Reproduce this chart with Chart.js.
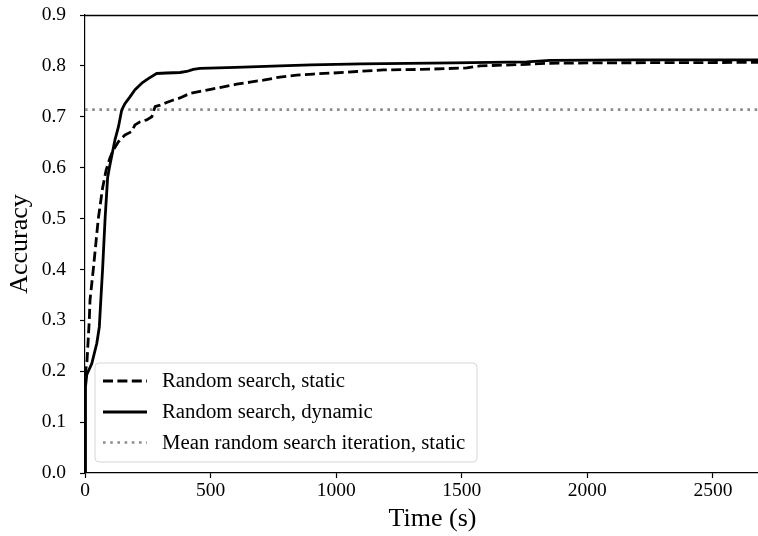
<!DOCTYPE html>
<html>
<head>
<meta charset="utf-8">
<script src="https://cdn.jsdelivr.net/npm/chart.js@4.4.1/dist/chart.umd.min.js"></script>
<style>
  html, body { margin: 0; padding: 0; background: #fff; overflow: hidden; width: 758px; height: 536px; }
  canvas { display: block; }
</style>
</head>
<body>
<canvas id="c" width="780" height="536"></canvas>
<script>
// ---- data ----
const staticTime = [0, 8, 17, 20, 33, 53, 70, 84, 100, 113, 133, 159, 186, 199, 219, 246, 266, 279, 299, 325, 352, 378, 418, 458, 500, 551, 604, 657, 710, 776, 843, 909, 988, 1082, 1188, 1334, 1520, 1572, 1758, 1838, 2050, 2767];
const staticAcc  = [0.19, 0.22, 0.30, 0.34, 0.40, 0.50, 0.56, 0.595, 0.62, 0.635, 0.651, 0.664, 0.671, 0.684, 0.690, 0.694, 0.700, 0.720, 0.723, 0.728, 0.733, 0.737, 0.746, 0.750, 0.754, 0.759, 0.764, 0.768, 0.772, 0.778, 0.782, 0.784, 0.786, 0.789, 0.792, 0.793, 0.796, 0.800, 0.803, 0.805, 0.806, 0.807];

const dynamicTime = [0, 2, 7, 27, 47, 57, 63, 70, 80, 90, 97, 106, 119, 133, 146, 159, 179, 199, 226, 252, 285, 325, 378, 405, 431, 458, 600, 776, 900, 1100, 1466, 1758, 1851, 2183, 2767];
const dynamicAcc  = [0.0, 0.17, 0.193, 0.215, 0.255, 0.287, 0.34, 0.40, 0.50, 0.58, 0.60, 0.622, 0.654, 0.680, 0.713, 0.726, 0.739, 0.753, 0.766, 0.775, 0.785, 0.786, 0.787, 0.789, 0.793, 0.795, 0.797, 0.800, 0.802, 0.804, 0.806, 0.808, 0.811, 0.812, 0.812];

const meanAcc = 0.714;
const xMin = 0, xMax = 2767;
const xTicks = [0, 500, 1000, 1500, 2000, 2500];
const yTicks = [0.0, 0.1, 0.2, 0.3, 0.4, 0.5, 0.6, 0.7, 0.8, 0.9];
const seriesLabels = ["Random search, static", "Random search, dynamic", "Mean random search iteration, static"];

const FONT = "'Liberation Serif', 'Times New Roman', 'DejaVu Serif', serif";

function pts(xs, ys) { return xs.map((x, i) => ({ x: x, y: ys[i] })); }

const topSpine = {
  id: 'topSpine',
  afterDraw(chart) {
    const { ctx, chartArea } = chart;
    const y = Math.round(chartArea.top) + 0.5;
    ctx.save();
    ctx.strokeStyle = '#000';
    ctx.lineWidth = 1.3;
    ctx.beginPath();
    ctx.moveTo(chartArea.left - 0.6, y);
    ctx.lineTo(chartArea.right, y);
    ctx.stroke();
    ctx.restore();
  }
};

const boxLegend = {
  id: 'boxLegend',
  afterDraw(chart) {
    const { ctx, chartArea } = chart;
    const left = chartArea.left + 10, w = 382, h = 99;
    const top = chartArea.bottom - 11 - h;
    ctx.save();
    const r = 4;
    ctx.beginPath();
    ctx.moveTo(left + r, top);
    ctx.lineTo(left + w - r, top);
    ctx.arcTo(left + w, top, left + w, top + r, r);
    ctx.lineTo(left + w, top + h - r);
    ctx.arcTo(left + w, top + h, left + w - r, top + h, r);
    ctx.lineTo(left + r, top + h);
    ctx.arcTo(left, top + h, left, top + h - r, r);
    ctx.lineTo(left, top + r);
    ctx.arcTo(left, top, left + r, top, r);
    ctx.closePath();
    ctx.fillStyle = 'rgba(255,255,255,0.8)';
    ctx.fill();
    ctx.strokeStyle = '#d6d6d6';
    ctx.lineWidth = 1;
    ctx.stroke();
    const rows = [top + 18, top + 49, top + 79.5];
    chart.data.datasets.forEach((ds, i) => {
      const y = rows[i];
      ctx.beginPath();
      ctx.setLineDash(ds.borderDash || []);
      ctx.lineDashOffset = 0;
      ctx.strokeStyle = ds.borderColor;
      ctx.lineWidth = ds.borderWidth;
      ctx.lineCap = 'butt';
      ctx.moveTo(left + 8, y);
      ctx.lineTo(left + 52, y);
      ctx.stroke();
      ctx.setLineDash([]);
      ctx.fillStyle = '#000';
      ctx.font = '20.8px ' + FONT;
      ctx.textBaseline = 'middle';
      ctx.textAlign = 'left';
      ctx.fillText(ds.label, left + 67, y + 1);
    });
    ctx.restore();
  }
};

new Chart(document.getElementById('c'), {
  type: 'line',
  data: {
    datasets: [
      {
        label: seriesLabels[0],
        data: pts(staticTime, staticAcc),
        borderColor: '#000',
        borderWidth: 2.8,
        borderDash: [10, 4.4],
        borderJoinStyle: 'round',
        pointRadius: 0,
        tension: 0,
        fill: false
      },
      {
        label: seriesLabels[1],
        data: pts(dynamicTime, dynamicAcc),
        borderColor: '#000',
        borderWidth: 2.8,
        borderJoinStyle: 'round',
        pointRadius: 0,
        tension: 0,
        fill: false
      },
      {
        label: seriesLabels[2],
        data: [{ x: xMin, y: meanAcc }, { x: xMax, y: meanAcc }],
        borderColor: '#8c8c8c',
        borderWidth: 2.6,
        borderDash: [2.6, 4.6],
        pointRadius: 0,
        tension: 0,
        fill: false
      }
    ]
  },
  options: {
    responsive: false,
    devicePixelRatio: 1,
    animation: false,
    layout: { padding: { left: 0, right: 0, top: 15, bottom: 0 } },
    plugins: { legend: { display: false }, tooltip: { enabled: false } },
    scales: {
      x: {
        type: 'linear',
        min: xMin,
        max: xMax,
        afterBuildTicks(scale) { scale.ticks = xTicks.map(v => ({ value: v })); },
        afterFit(scale) { scale.height = 63; scale.paddingLeft = 0; scale.paddingRight = 0; },
        ticks: {
          color: '#000',
          font: { family: FONT, size: 19.5 },
          padding: 1,
          maxRotation: 0,
          autoSkip: false,
          callback: v => String(v)
        },
        grid: { drawOnChartArea: false, drawTicks: true, tickLength: 5, tickColor: '#000', tickWidth: 1.2 },
        border: { display: true, color: '#000', width: 1.2 },
        title: {
          display: true,
          text: 'Time (s)',
          color: '#000',
          font: { family: FONT, size: 26 },
          padding: { top: 0, bottom: 1.5 }
        }
      },
      y: {
        type: 'linear',
        min: 0,
        max: 0.9,
        afterBuildTicks(scale) { scale.ticks = yTicks.map(v => ({ value: v })); },
        afterFit(scale) { scale.width = 85; scale.paddingTop = 0; scale.paddingBottom = 0; },
        ticks: {
          color: '#000',
          font: { family: FONT, size: 19.5 },
          padding: 14,
          autoSkip: false,
          callback: v => Number(v).toFixed(1)
        },
        grid: { drawOnChartArea: false, drawTicks: true, tickLength: 5, tickColor: '#000', tickWidth: 1.2 },
        border: { display: true, color: '#000', width: 1.2 },
        title: {
          display: true,
          text: 'Accuracy',
          color: '#000',
          font: { family: FONT, size: 26 },
          padding: { top: 5, bottom: 0 }
        }
      }
    }
  },
  plugins: [topSpine, boxLegend]
});
</script>
</body>
</html>
